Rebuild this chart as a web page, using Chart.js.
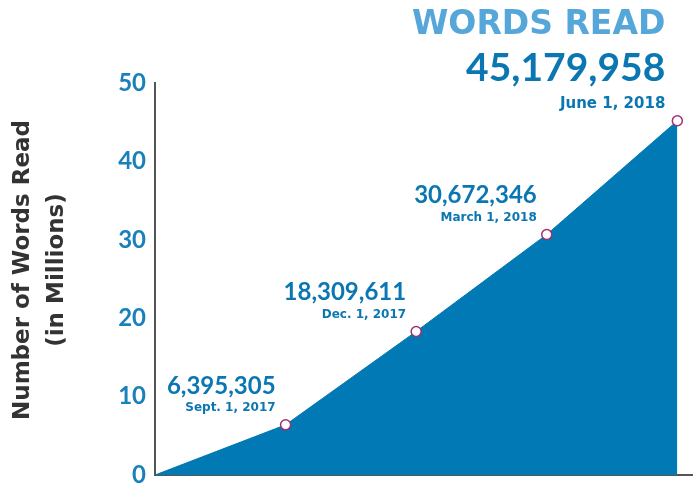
<!DOCTYPE html>
<html>
<head>
<meta charset="utf-8">
<script src="https://cdn.jsdelivr.net/npm/chart.js@4"></script>
<style>
  html, body { margin: 0; padding: 0; background: #fff; }
  #wrap { width: 693px; height: 485px; }
</style>
</head>
<body>
<div id="wrap"><canvas id="wordsChart"></canvas></div>
<script>
// data
const dates = ['Start', 'Sept. 1, 2017', 'Dec. 1, 2017', 'March 1, 2018', 'June 1, 2018'];
const wordsRead = [0, 6395305, 18309611, 30672346, 45179958];
const yTicks = [0, 10, 20, 30, 40, 50];
const chartTitle = 'WORDS READ';
const yTitle = ['Number of Words Read', '(in Millions)'];

const NUM_FONT = 'Lato, "Open Sans", sans-serif';
const TXT_FONT = '"DejaVu Sans", sans-serif';
const fmt = n => n.toLocaleString('en-US');

// labels next to points + headline + axis title
const labelPlugin = {
    id: 'labels',
    afterDatasetsDraw(chart) {
        const c = chart.ctx;
        const meta = chart.getDatasetMeta(0);
        c.save();
        c.textAlign = 'right';
        c.textBaseline = 'middle';
        meta.data.forEach((pt, i) => {
            if (i === 0) return;
            const last = i === wordsRead.length - 1;
            if (last) {
                c.fillStyle = '#0b77b2';
                c.font = 'bold 15px ' + TXT_FONT;
                c.fillText(dates[i], pt.x - 12, pt.y - 17);
                c.font = 'bold 39px ' + NUM_FONT;
                c.fillText(fmt(wordsRead[i]), pt.x - 12, pt.y - 52);
                c.fillStyle = '#55a6d9';
                c.font = 'bold 33px ' + TXT_FONT;
                c.fillText(chartTitle, pt.x - 12, pt.y - 95);
            } else {
                c.fillStyle = '#0b77b2';
                c.font = 'bold 12px ' + TXT_FONT;
                c.fillText(dates[i], pt.x - 10, pt.y - 17);
                c.font = 'bold 24px ' + NUM_FONT;
                c.fillText(fmt(wordsRead[i]), pt.x - 10, pt.y - 39);
            }
        });
        // y axis title
        c.fillStyle = '#333333';
        c.font = 'bold 23px ' + TXT_FONT;
        c.textAlign = 'center';
        c.translate(0, 270);
        c.rotate(-Math.PI / 2);
        c.fillText(yTitle[0], 0, 23);
        c.fillText(yTitle[1], 0, 57);
        c.restore();
    }
};

new Chart(document.getElementById('wordsChart'), {
    type: 'line',
    data: {
        datasets: [{
            data: wordsRead.map((v, i) => ({ x: i, y: v / 1e6 })),
            borderColor: '#0079b4',
            backgroundColor: '#0079b4',
            borderWidth: 1,
            fill: 'origin',
            tension: 0,
            pointRadius: ctx => ctx.dataIndex === 0 ? 0 : 5,
            pointBackgroundColor: '#ffffff',
            pointBorderColor: '#a0306e',
            pointBorderWidth: 1.5
        }]
    },
    options: {
        responsive: true,
        maintainAspectRatio: false,
        animation: false,
        layout: { autoPadding: false, padding: { top: 83, right: 0, bottom: 10, left: 0 } },
        plugins: {
            legend: { display: false },
            tooltip: { enabled: false }
        },
        scales: {
            x: {
                type: 'linear',
                min: 0,
                max: 4.12,
                grid: { display: false, drawTicks: false },
                border: { color: '#555555', width: 2 },
                ticks: { display: false },
                afterFit: s => { s.height = 0; s.paddingLeft = 0; s.paddingRight = 0; }
            },
            y: {
                min: yTicks[0],
                max: yTicks[yTicks.length - 1],
                grid: { display: false, drawTicks: false },
                border: { color: '#555555', width: 2 },
                afterBuildTicks: s => { s.ticks = yTicks.map(v => ({ value: v })); },
                ticks: {
                    color: '#1a80bc',
                    padding: 9,
                    font: { family: NUM_FONT, size: 24, weight: 'bold' }
                },
                afterFit: s => { s.width = 155; s.paddingTop = 0; s.paddingBottom = 0; }
            }
        }
    },
    plugins: [labelPlugin]
});
</script>
</body>
</html>
